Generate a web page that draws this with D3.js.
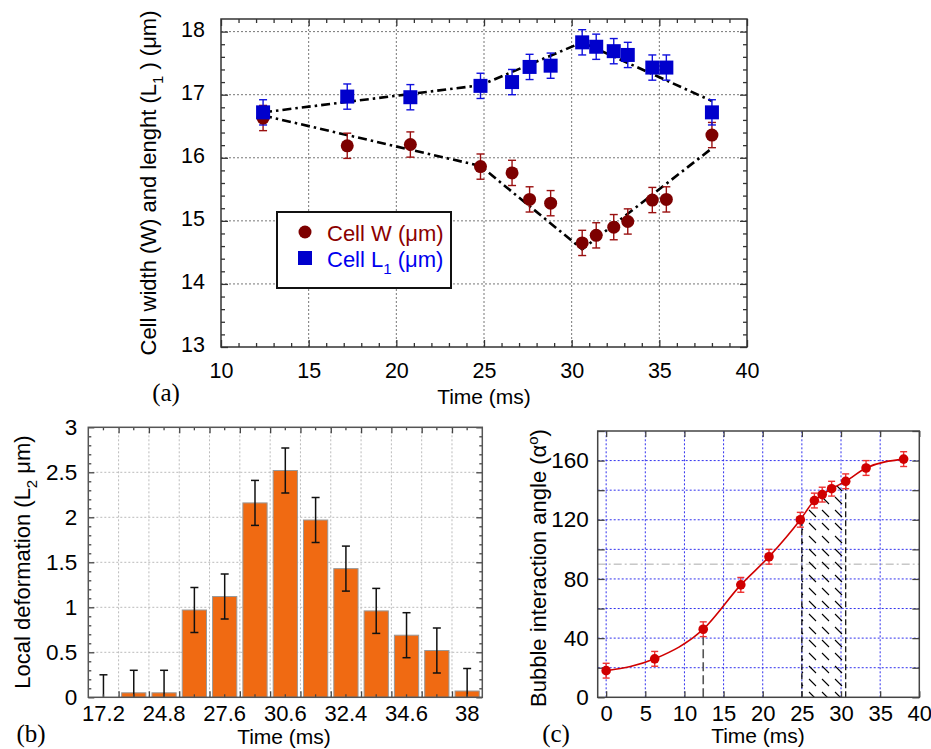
<!DOCTYPE html>
<html lang="en">
<head>
<meta charset="UTF-8" />
<title>Cell deformation and bubble angle</title>
<script src="https://d3js.org/d3.v7.min.js"></script>
<style>
  body { margin: 0; background: #fff; }
  svg { display: block; font-family: "Liberation Sans", Arial, Helvetica, sans-serif; }
  .tag { font-family: "Liberation Serif", "Times New Roman", serif; font-size: 25px; }
</style>
</head>
<body>
<svg id="fig" width="931" height="749"></svg>
<script>
// ---------- panel (a): cell width / length ----------
const timesA = [12.4, 17.2, 20.8, 24.8, 26.6, 27.6, 28.8, 30.6, 31.4, 32.4, 33.2, 34.6, 35.4, 38];
const cellW  = [16.63, 16.19, 16.21, 15.86, 15.76, 15.34, 15.28, 14.65, 14.77, 14.90, 14.99, 15.33, 15.34, 16.36];
const cellL1 = [16.72, 16.97, 16.96, 17.14, 17.20, 17.44, 17.46, 17.83, 17.76, 17.69, 17.63, 17.43, 17.43, 16.72];
const errA = 0.2;
// piecewise linear guide lines (dash-dot)
const fitTimes = [12.4, 24.8, 30.6, 38];
const fitW  = [16.67, 15.87, 14.55, 16.15];
const fitL1 = [16.72, 17.15, 17.83, 16.9];

// ---------- panel (b): local deformation ----------
const timeLabelsB = ["17.2", "20.8", "24.8", "26.6", "27.6", "28.8", "30.6", "31.4", "32.4", "33.2", "34.6", "35.4", "38"];
const deformL2 = [0, 0.05, 0.05, 0.97, 1.12, 2.16, 2.52, 1.97, 1.43, 0.96, 0.69, 0.52, 0.07];
const errB = 0.25;

// ---------- panel (c): bubble interaction angle ----------
const timesC = [0, 6.2, 12.4, 17.2, 20.8, 24.8, 26.6, 27.6, 28.8, 30.6, 33.2, 38];
const angleC = [18, 26, 46, 76, 95, 120, 133, 137, 141, 146, 155, 161];
const errC = 5;

const svg = d3.select("#fig");

// strip d3's default axis styling and apply ours
function styleAxis(g, color, fontSize) {
  g.attr("font-family", null).attr("font-size", null);
  g.select(".domain").remove();
  g.selectAll(".tick line").attr("stroke", color).attr("stroke-width", 1.3);
  g.selectAll(".tick text").attr("fill", "#000").style("font-size", fontSize + "px");
}

/************************************************************
 * (a)
 ************************************************************/
const xA = d3.scaleLinear().domain([10, 40]).range([221, 747]);
const yA = d3.scaleLinear().domain([13, 18.2]).range([347, 19]);
const gA = svg.append("g");

// grid
gA.selectAll(".gx").data([15, 20, 25, 30, 35]).join("line")
  .attr("x1", d => xA(d)).attr("x2", d => xA(d))
  .attr("y1", yA(13)).attr("y2", yA(18.2))
  .attr("stroke", "#777").attr("stroke-dasharray", "2,2");
gA.selectAll(".gy").data([14, 15, 16, 17, 18]).join("line")
  .attr("x1", xA(10)).attr("x2", xA(40))
  .attr("y1", d => yA(d)).attr("y2", d => yA(d))
  .attr("stroke", "#777").attr("stroke-dasharray", "2,2");

const xMajA = [10, 15, 20, 25, 30, 35, 40];
const xMinA = d3.range(11, 40).filter(d => d % 5 !== 0);
const yMajA = [13, 14, 15, 16, 17, 18];
const yMinA = d3.range(0, 26).map(i => +(13 + i * 0.2).toFixed(1)).filter(d => d % 1 !== 0);

gA.append("g").attr("transform", `translate(0,${yA(13)})`)
  .call(d3.axisBottom(xA).tickValues(xMajA).tickSize(-7).tickPadding(16).tickFormat(d3.format("d")))
  .call(g => styleAxis(g, "#333", 21.5));
gA.append("g").attr("transform", `translate(0,${yA(13)})`)
  .call(d3.axisBottom(xA).tickValues(xMinA).tickSize(-4).tickFormat(""))
  .call(g => styleAxis(g, "#333", 21.5));
gA.append("g").attr("transform", `translate(0,${yA(18.2)})`)
  .call(d3.axisTop(xA).tickValues(xMajA).tickSize(-7).tickFormat(""))
  .call(g => styleAxis(g, "#333", 21.5));
gA.append("g").attr("transform", `translate(0,${yA(18.2)})`)
  .call(d3.axisTop(xA).tickValues(xMinA).tickSize(-4).tickFormat(""))
  .call(g => styleAxis(g, "#333", 21.5));
gA.append("g").attr("transform", `translate(${xA(10)},0)`)
  .call(d3.axisLeft(yA).tickValues(yMajA).tickSize(-7).tickPadding(16).tickFormat(d3.format("d")))
  .call(g => styleAxis(g, "#333", 21.5))
  .call(g => g.selectAll(".tick text").attr("dy", "0.22em"));
gA.append("g").attr("transform", `translate(${xA(10)},0)`)
  .call(d3.axisLeft(yA).tickValues(yMinA).tickSize(-4).tickFormat(""))
  .call(g => styleAxis(g, "#333", 21.5));
gA.append("g").attr("transform", `translate(${xA(40)},0)`)
  .call(d3.axisRight(yA).tickValues(yMajA).tickSize(-7).tickFormat(""))
  .call(g => styleAxis(g, "#333", 21.5));
gA.append("g").attr("transform", `translate(${xA(40)},0)`)
  .call(d3.axisRight(yA).tickValues(yMinA).tickSize(-4).tickFormat(""))
  .call(g => styleAxis(g, "#333", 21.5));

gA.append("rect")
  .attr("x", xA(10)).attr("y", yA(18.2))
  .attr("width", xA(40) - xA(10)).attr("height", yA(13) - yA(18.2))
  .attr("fill", "none").attr("stroke", "#333").attr("stroke-width", 1.5);

// dash-dot guide lines
const lineA = d3.line().x(d => xA(d[0])).y(d => yA(d[1]));
[fitL1, fitW].forEach(vals => {
  gA.append("path")
    .attr("d", lineA(fitTimes.map((t, i) => [t, vals[i]])))
    .attr("fill", "none").attr("stroke", "#000").attr("stroke-width", 2.6)
    .attr("stroke-dasharray", "9,4,2.5,4");
});

const redA = "#7d0000", blueA = "#0000cc";
function errorBars(g, xs, ys, err, xScale, yScale, color, cap) {
  xs.forEach((t, i) => {
    const x = xScale(t), y1 = yScale(ys[i] + err), y0 = yScale(ys[i] - err);
    g.append("line").attr("x1", x).attr("x2", x).attr("y1", y1).attr("y2", y0)
      .attr("stroke", color).attr("stroke-width", 1.4);
    [y1, y0].forEach(y => g.append("line")
      .attr("x1", x - cap / 2).attr("x2", x + cap / 2).attr("y1", y).attr("y2", y)
      .attr("stroke", color).attr("stroke-width", 1.4));
  });
}
errorBars(gA, timesA, cellW, errA, xA, yA, "#9a1010", 8);
errorBars(gA, timesA, cellL1, errA, xA, yA, "#1010dd", 8);

gA.selectAll(".ptW").data(timesA).join("circle")
  .attr("cx", d => xA(d)).attr("cy", (d, i) => yA(cellW[i])).attr("r", 6.5)
  .attr("fill", redA);
gA.selectAll(".ptL").data(timesA).join("rect")
  .attr("x", d => xA(d) - 7).attr("y", (d, i) => yA(cellL1[i]) - 7)
  .attr("width", 14).attr("height", 14).attr("fill", blueA);

// legend
const leg = gA.append("g");
leg.append("rect").attr("x", 277).attr("y", 212).attr("width", 174).attr("height", 76)
  .attr("fill", "#fff").attr("stroke", "#111").attr("stroke-width", 2);
leg.append("circle").attr("cx", 305).attr("cy", 232).attr("r", 6.5).attr("fill", redA);
leg.append("rect").attr("x", 298).attr("y", 251).attr("width", 14).attr("height", 14).attr("fill", blueA);
leg.append("text").attr("x", 327).attr("y", 241).attr("font-size", 22).attr("fill", "#8b0000")
  .text("Cell W (μm)");
const legL = leg.append("text").attr("x", 327).attr("y", 267).attr("font-size", 22).attr("fill", "#0000ee");
legL.append("tspan").text("Cell L");
legL.append("tspan").attr("font-size", 15).attr("dy", 7).text("1");
legL.append("tspan").attr("dy", -7).text(" (μm)");

gA.append("text").attr("x", 484).attr("y", 404).attr("text-anchor", "middle")
  .attr("font-size", 21).text("Time (ms)");
const yLabA = gA.append("text").attr("transform", `translate(156,183) rotate(-90)`)
  .attr("text-anchor", "middle").attr("font-size", 22);
yLabA.append("tspan").text("Cell width (W) and lenght (L");
yLabA.append("tspan").attr("font-size", 15).attr("dy", 7).text("1");
yLabA.append("tspan").attr("dy", -7).text(" ) (μm)");
gA.append("text").attr("class", "tag").attr("x", 166).attr("y", 401).attr("text-anchor", "middle").text("(a)");

/************************************************************
 * (b)
 ************************************************************/
const xB = d3.scaleBand().domain(timeLabelsB).range([88.3, 482.3]).paddingInner(0.2).paddingOuter(0.1);
const edgeB = d3.scaleLinear().domain([0, timeLabelsB.length]).range([88.3, 482.3]);
const yB = d3.scaleLinear().domain([0, 3]).range([697.3, 427.3]);
const gB = svg.append("g");

gB.selectAll(".gx").data(d3.range(1, timeLabelsB.length)).join("line")
  .attr("x1", d => edgeB(d)).attr("x2", d => edgeB(d))
  .attr("y1", yB(0)).attr("y2", yB(3))
  .attr("stroke", "#bbb").attr("stroke-dasharray", "2,2");
gB.selectAll(".gy").data([0.5, 1, 1.5, 2, 2.5]).join("line")
  .attr("x1", edgeB(0)).attr("x2", edgeB(timeLabelsB.length))
  .attr("y1", d => yB(d)).attr("y2", d => yB(d))
  .attr("stroke", "#bbb").attr("stroke-dasharray", "2,2");

gB.selectAll(".bar").data(timeLabelsB).join("rect")
  .attr("x", d => xB(d)).attr("width", xB.bandwidth())
  .attr("y", (d, i) => yB(deformL2[i]))
  .attr("height", (d, i) => yB(0) - yB(deformL2[i]))
  .attr("fill", "#f06a12").attr("stroke", "#999").attr("stroke-width", 1);

timeLabelsB.forEach((t, i) => {
  const x = xB(t) + xB.bandwidth() / 2;
  const y1 = yB(deformL2[i] + errB), y0 = yB(Math.max(0, deformL2[i] - errB));
  gB.append("line").attr("x1", x).attr("x2", x).attr("y1", y1).attr("y2", y0)
    .attr("stroke", "#111").attr("stroke-width", 1.5);
  gB.append("line").attr("x1", x - 4).attr("x2", x + 4).attr("y1", y1).attr("y2", y1)
    .attr("stroke", "#111").attr("stroke-width", 1.5);
  if (deformL2[i] - errB > 0) {
    gB.append("line").attr("x1", x - 4).attr("x2", x + 4).attr("y1", y0).attr("y2", y0)
      .attr("stroke", "#111").attr("stroke-width", 1.5);
  }
});

const yMajB = [0, 0.5, 1, 1.5, 2, 2.5, 3];
const yMinB = d3.range(0, 31).map(i => +(i * 0.1).toFixed(1)).filter(d => !yMajB.includes(d));
const edgesB = d3.range(1, timeLabelsB.length);

gB.append("g").attr("transform", `translate(0,${yB(0)})`)
  .call(d3.axisBottom(xB).tickSize(-3).tickPadding(8).tickFormat((d, i) => i % 2 === 0 ? d : ""))
  .call(g => styleAxis(g, "#444", 22));
gB.append("g").attr("transform", `translate(0,${yB(0)})`)
  .call(d3.axisBottom(edgeB).tickValues(edgesB).tickSize(-6).tickFormat(""))
  .call(g => styleAxis(g, "#444", 22));
gB.append("g").attr("transform", `translate(0,${yB(3)})`)
  .call(d3.axisTop(xB).tickSize(-3).tickFormat(""))
  .call(g => styleAxis(g, "#444", 22));
gB.append("g").attr("transform", `translate(0,${yB(3)})`)
  .call(d3.axisTop(edgeB).tickValues(edgesB).tickSize(-6).tickFormat(""))
  .call(g => styleAxis(g, "#444", 22));
gB.append("g").attr("transform", `translate(${edgeB(0)},0)`)
  .call(d3.axisLeft(yB).tickValues(yMajB).tickSize(-6).tickPadding(11).tickFormat(d => d))
  .call(g => styleAxis(g, "#444", 22.5));
gB.append("g").attr("transform", `translate(${edgeB(0)},0)`)
  .call(d3.axisLeft(yB).tickValues(yMinB).tickSize(-3).tickFormat(""))
  .call(g => styleAxis(g, "#444", 22));
gB.append("g").attr("transform", `translate(${edgeB(13)},0)`)
  .call(d3.axisRight(yB).tickValues(yMajB).tickSize(-6).tickFormat(""))
  .call(g => styleAxis(g, "#444", 22));
gB.append("g").attr("transform", `translate(${edgeB(13)},0)`)
  .call(d3.axisRight(yB).tickValues(yMinB).tickSize(-3).tickFormat(""))
  .call(g => styleAxis(g, "#444", 22));

gB.append("rect")
  .attr("x", edgeB(0)).attr("y", yB(3))
  .attr("width", edgeB(13) - edgeB(0)).attr("height", yB(0) - yB(3))
  .attr("fill", "none").attr("stroke", "#555").attr("stroke-width", 1.5);

gB.append("text").attr("x", 284).attr("y", 744).attr("text-anchor", "middle")
  .attr("font-size", 21).text("Time (ms)");
const yLabB = gB.append("text").attr("transform", `translate(30,562) rotate(-90)`)
  .attr("text-anchor", "middle").attr("font-size", 22);
yLabB.append("tspan").text("Local deformation (L");
yLabB.append("tspan").attr("font-size", 15).attr("dy", 7).text("2");
yLabB.append("tspan").attr("dy", -7).text(" μm)");
gB.append("text").attr("class", "tag").attr("x", 31).attr("y", 742).attr("text-anchor", "middle").text("(b)");

/************************************************************
 * (c)
 ************************************************************/
const xC = d3.scaleLinear().domain([-1.08, 40]).range([597.7, 919.3]);
const yC = d3.scaleLinear().domain([0, 180]).range([697.3, 431]);
const gC = svg.append("g");

const defs = svg.append("defs");
const pat = defs.append("pattern").attr("id", "hatch").attr("patternUnits", "userSpaceOnUse")
  .attr("width", 13).attr("height", 13);
pat.append("path").attr("d", "M3,3 L10,10").attr("stroke", "#000").attr("stroke-width", 1.1);
defs.append("clipPath").attr("id", "clipHatch").append("rect")
  .attr("x", xC(25)).attr("y", yC(180))
  .attr("width", xC(30.6) - xC(25)).attr("height", yC(0) - yC(180));

gC.selectAll(".gx").data(d3.range(0, 40, 5)).join("line")
  .attr("x1", d => xC(d)).attr("x2", d => xC(d))
  .attr("y1", yC(0)).attr("y2", yC(180))
  .attr("stroke", "#3030ee").attr("stroke-dasharray", "2,2");
gC.selectAll(".gy").data(d3.range(20, 180, 20)).join("line")
  .attr("x1", xC(-1.08)).attr("x2", xC(40))
  .attr("y1", d => yC(d)).attr("y2", d => yC(d))
  .attr("stroke", "#3030ee").attr("stroke-dasharray", "2,2");
gC.append("line")
  .attr("x1", xC(-1.08)).attr("x2", xC(40)).attr("y1", yC(90)).attr("y2", yC(90))
  .attr("stroke", "#aaa").attr("stroke-dasharray", "8,3,2,3");

const ptsC = timesC.map((t, i) => [t, angleC[i]]);
const curveAt = d3.scaleLinear().domain(timesC).range(angleC);

// hatched window between 25 and 30.6 ms
const areaC = d3.area().x(d => xC(d[0])).y0(yC(0)).y1(d => yC(d[1])).curve(d3.curveMonotoneX);
gC.append("path")
  .attr("d", areaC(ptsC.filter(p => p[0] >= 24.8 && p[0] <= 30.6)))
  .attr("fill", "url(#hatch)").attr("clip-path", "url(#clipHatch)");
[25, 30.6].forEach(t => {
  gC.append("line").attr("x1", xC(t)).attr("x2", xC(t))
    .attr("y1", yC(0)).attr("y2", yC(curveAt(t)))
    .attr("stroke", "#000").attr("stroke-width", 1.2).attr("stroke-dasharray", "6,3");
});
gC.append("line").attr("x1", xC(12.4)).attr("x2", xC(12.4))
  .attr("y1", yC(0)).attr("y2", yC(curveAt(12.4)))
  .attr("stroke", "#555").attr("stroke-width", 1.6).attr("stroke-dasharray", "9,4");

const xMajC = d3.range(0, 41, 5);
const yMajC = d3.range(0, 181, 20);
gC.append("g").attr("transform", `translate(0,${yC(0)})`)
  .call(d3.axisBottom(xC).tickValues(xMajC).tickSize(-6).tickPadding(8).tickFormat(d3.format("d")))
  .call(g => styleAxis(g, "#444", 22));
gC.append("g").attr("transform", `translate(0,${yC(180)})`)
  .call(d3.axisTop(xC).tickValues(xMajC).tickSize(-6).tickFormat(""))
  .call(g => styleAxis(g, "#444", 22));
gC.append("g").attr("transform", `translate(${xC(-1.08)},0)`)
  .call(d3.axisLeft(yC).tickValues(yMajC).tickSize(-7).tickPadding(9)
    .tickFormat(d => d % 40 === 0 && d < 180 ? d : ""))
  .call(g => styleAxis(g, "#444", 22.5));
gC.append("g").attr("transform", `translate(${xC(40)},0)`)
  .call(d3.axisRight(yC).tickValues(yMajC).tickSize(-7).tickFormat(""))
  .call(g => styleAxis(g, "#444", 22));

gC.append("rect")
  .attr("x", xC(-1.08)).attr("y", yC(180))
  .attr("width", xC(40) - xC(-1.08)).attr("height", yC(0) - yC(180))
  .attr("fill", "none").attr("stroke", "#444").attr("stroke-width", 1.5);

gC.append("path")
  .attr("d", d3.line().x(d => xC(d[0])).y(d => yC(d[1])).curve(d3.curveMonotoneX)(ptsC))
  .attr("fill", "none").attr("stroke", "#d00000").attr("stroke-width", 1.6);
errorBars(gC, timesC, angleC, errC, xC, yC, "#ee3030", 7);
gC.selectAll(".ptC").data(ptsC).join("circle")
  .attr("cx", d => xC(d[0])).attr("cy", d => yC(d[1])).attr("r", 4.8)
  .attr("fill", "#d00000");

gC.append("text").attr("x", 758).attr("y", 743).attr("text-anchor", "middle")
  .attr("font-size", 21).text("Time (ms)");
const yLabC = gC.append("text").attr("transform", `translate(546,568) rotate(-90)`)
  .attr("text-anchor", "middle").attr("font-size", 22);
yLabC.append("tspan").text("Bubble interaction angle (α");
yLabC.append("tspan").attr("font-size", 15).attr("dy", -8).text("o");
yLabC.append("tspan").attr("dy", 8).text(")");
gC.append("text").attr("class", "tag").attr("x", 556).attr("y", 742).attr("text-anchor", "middle").text("(c)");
</script>
</body>
</html>
